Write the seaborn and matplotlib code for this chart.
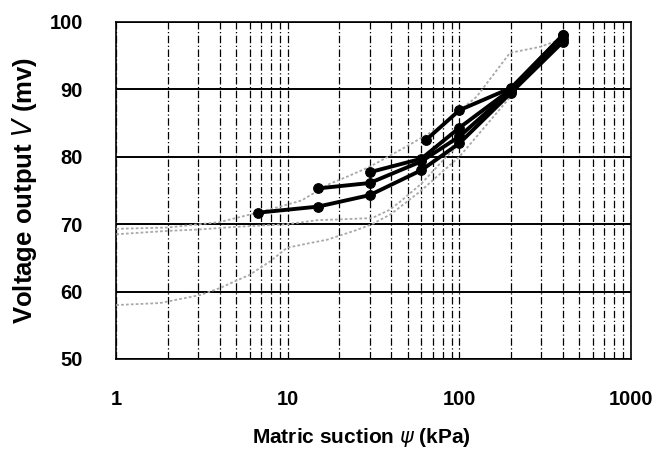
import numpy as np
import pandas as pd
import matplotlib
matplotlib.use("Agg")
import matplotlib.pyplot as plt
import matplotlib.ticker as mticker
import seaborn as sns

# Black (measured) curves
a_x = [6.7, 15, 30, 60, 100, 200, 400]
a_y = [71.7, 72.6, 74.3, 78.0, 82.0, 89.5, 97.0]
b_x = [15, 30, 60, 100, 200, 400]
b_y = [75.3, 76.1, 79.3, 83.0, 89.8, 97.5]
c_x = [30, 60, 100, 200, 400]
c_y = [77.7, 79.7, 84.3, 90.0, 98.0]
d_x = [64, 100, 200, 400]
d_y = [82.5, 86.9, 90.2, 98.0]

# Gray (reference) curves
g1_x = [1, 2, 4, 6.9, 9, 12, 17.6, 22, 30, 49, 77, 126, 197, 296, 400]
g1_y = [69.3, 69.5, 70.3, 71.8, 72.6, 73.5, 76.0, 77.0, 78.5, 81.5, 84.4, 88.9, 95.4, 96.3, 97.5]
g2_x = [1, 2, 3, 5, 10, 15, 20, 31, 39, 45, 60, 84, 126, 150, 200]
g2_y = [68.5, 69.0, 69.2, 69.6, 70.0, 70.6, 70.7, 70.9, 72.1, 73.3, 76.0, 80.0, 84.4, 87.0, 90.0]
g3_x = [1, 1.8, 3.1, 4, 6, 7.9, 9.9, 13.5, 17, 25, 31, 40, 60, 100, 200]
g3_y = [58.0, 58.3, 59.5, 60.5, 62.5, 64.5, 66.5, 67.2, 67.7, 69.1, 70.0, 71.5, 75.0, 80.0, 89.0]

x_ticks = [1, 10, 100, 1000]
x_tick_labels = ["1", "10", "100", "1000"]
y_ticks = [50, 60, 70, 80, 90, 100]

sns.set_style("white")
plt.rcParams['font.family'] = ['Liberation Sans', 'DejaVu Sans']
plt.rcParams['text.color'] = 'black'
plt.rcParams['axes.labelcolor'] = 'black'
plt.rcParams['xtick.color'] = 'black'
plt.rcParams['ytick.color'] = 'black'

fig = plt.figure(figsize=(6.72, 4.55), dpi=100)
ax = fig.add_axes([0.173, 0.211, 0.766, 0.741])

for gx, gy in [(g1_x, g1_y), (g2_x, g2_y), (g3_x, g3_y)]:
    sns.lineplot(x=gx, y=gy, ax=ax, sort=False, estimator=None, color="#a8a8a8",
                 linewidth=1.3, linestyle=(0, (1.5, 1.2)), zorder=3)

for bx, by in [(a_x, a_y), (b_x, b_y), (c_x, c_y), (d_x, d_y)]:
    sns.lineplot(x=bx, y=by, ax=ax, sort=False, estimator=None, color="black",
                 linewidth=2.8, marker="o", markersize=7, markeredgecolor="black", zorder=4)

ax.set_xscale("log")
ax.set_xlim(1, 1000)
ax.set_ylim(50, 100)
ax.set_xticks(x_ticks)
ax.set_xticklabels(x_tick_labels)
ax.xaxis.set_minor_locator(mticker.LogLocator(base=10, subs=np.arange(2, 10)))
ax.xaxis.set_minor_formatter(mticker.NullFormatter())
ax.set_yticks(y_ticks)

ax.grid(True, which="both", axis="x", color="black", linestyle=(0, (6, 2, 1, 2)), linewidth=0.9)
ax.grid(True, which="major", axis="y", color="black", linestyle="-", linewidth=1.4)
ax.set_axisbelow(True)

for s in ax.spines.values():
    s.set_color("black")
    s.set_linewidth(1.2)

ax.tick_params(axis="both", which="both", length=0)
ax.tick_params(axis="x", pad=22, labelsize=14.5)
ax.tick_params(axis="y", pad=24, labelsize=14.5)
for lab in ax.get_xticklabels() + ax.get_yticklabels():
    lab.set_fontweight("bold")

ax.set_xlabel(r"Matric suction $\psi$ (kPa)", fontsize=15, fontweight="bold")
ax.xaxis.set_label_coords(0.476, -0.2)
ax.set_ylabel(r"Voltage output $V$ (mv)", fontsize=18.5, fontweight="bold")
ax.yaxis.set_label_coords(-0.15, 0.5)

fig.savefig("out.png", dpi=100)
